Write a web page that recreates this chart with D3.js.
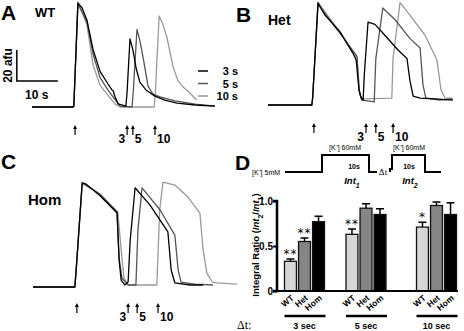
<!DOCTYPE html>
<html>
<head>
<meta charset="utf-8">
<script src="https://cdn.jsdelivr.net/npm/d3@7"></script>
<style>
  body { margin: 0; background: #fff; }
  svg { font-family: "Liberation Sans", Arial, sans-serif; }
  svg text { fill: #000; }
</style>
</head>
<body>
<svg id="fig" width="464" height="331"></svg>
<script>
// Traces: [time (s), signal (afu)]
var traceA3 = [[0,0],[10,0],[10.2,0.5],[11.2,67],[12.2,64],[13.4,56],[14.9,37],[16.6,23],[18.5,15],[19.5,11],[19.8,10.5],[20.2,7],[21.0,2],[22.9,0.5],[23.2,10],[23.9,44],[24.6,37],[25.4,25],[26.3,16],[27.8,11],[30.0,7],[32.4,4.5],[35.4,2.5],[39.8,1.3],[44.6,0.6]];
var traceA5 = [[0,0],[10,0],[10.2,0.5],[11.2,66.5],[13.4,55],[14.9,34],[16.6,19],[18.5,11],[20.2,5],[21.5,0.6],[24.4,0],[24.7,10],[25.6,50],[26.3,43],[27.3,29],[28.3,13.5],[29.5,8.4],[31.2,6.5],[34.9,3.9],[39.8,1.9],[44.6,0.6]];
var traceA10 = [[0,0],[10,0],[10.2,0.5],[11.2,68],[13.4,53],[14.9,27],[16.6,14],[18.5,7.7],[20.2,2],[21.5,0],[29.8,0],[30.1,10],[31.0,58.7],[31.9,53.5],[32.9,45],[34.4,26],[35.6,17],[36.8,13],[38.5,9],[40.2,4.5]];

var traceB3 = [[0,0],[10.7,0],[10.9,5],[12.2,66],[13.9,58],[17.6,47],[20.7,33.5],[21.5,29],[22.2,9.7],[22.7,4.5],[23.2,3.2],[23.5,20],[24.4,53.5],[26.1,52],[28.5,45],[31.7,35.5],[33.9,30],[34.6,16],[35.4,5.8],[37.1,4.5],[40.7,3.9],[45.1,3.2]];
var traceB5 = [[0,0],[10.7,0],[10.9,5],[12.2,65],[17.6,46],[21.7,31.6],[22.2,9.7],[22.9,3.2],[25.9,2],[26.3,30],[28.0,62.6],[31.0,55],[34.6,43],[37.1,36.8],[37.8,13],[38.5,4.5],[41.9,3.2],[45.1,3.9]];
var traceB10 = [[0,0],[10.7,0],[10.9,5],[12.2,66],[17.6,47],[21.7,30.3],[22.4,6.5],[23.2,3.9],[30.2,4.5],[30.5,30],[32.2,66],[34.6,58],[38.3,45],[41.2,29],[42.2,9.7],[43.2,4.5],[44.9,4.5]];

var traceC3 = [[0,0],[10.2,0],[10.5,10],[12.0,67],[12.9,66.5],[16.3,59],[20.5,47.7],[21.0,17.4],[21.5,4.5],[22.4,1.3],[23.2,3.2],[23.7,30],[24.9,64],[28.5,53],[32.9,35.5],[33.7,11],[34.6,2.6],[38.3,1.3],[41.5,1.3]];
var traceC5 = [[0,0],[10.2,0],[10.5,10],[12.0,67],[16.3,60],[20.5,48.4],[21.0,18.7],[21.7,5.8],[23.2,1.3],[25.1,1.3],[25.6,37],[26.6,64],[31.0,49.7],[34.6,33.5],[35.4,11],[36.1,3.2],[39.5,1.9],[43.9,1.3]];
var traceC10 = [[0,0],[10.2,0],[10.5,10],[12.0,67.7],[16.3,60],[20.7,48.4],[21.5,23.9],[22.2,5.8],[23.2,1.3],[30.2,1.3],[30.9,49.7],[31.7,67.7],[34.6,65.8],[37.8,58],[40.7,47.7],[41.5,23.9],[42.4,9],[43.7,3.2],[44.9,2.6],[49.8,1.9]];

// Stimulus times (s) for arrows
var stimA = [10.5, 23.2, 24.6, 30.0];
var stimB = [11.2, 23.9, 26.3, 30.5];
var stimC = [10.7, 23.2, 25.4, 30.5];

// Legend
var delays = ["3 s", "5 s", "10 s"];
var traceColors = ["#000", "#555", "#999"];

// Panel D data
var groups = ["3 sec", "5 sec", "10 sec"];
var genotypes = ["WT", "Het", "Hom"];
var ratioWT = [0.33, 0.63, 0.71];
var ratioHet = [0.55, 0.92, 0.95];
var ratioHom = [0.77, 0.85, 0.85];
var errWT = [0.025, 0.06, 0.055];
var errHet = [0.04, 0.05, 0.04];
var errHom = [0.06, 0.065, 0.13];
var stars = [["**", "**", ""], ["**", "", ""], ["*", "", ""]]; // per group: WT, Het, Hom
var yTicks = [0, 0.5, 1.0];

var svg = d3.select("#fig");

// panel letters
function bigLabel(x, y, t) {
  svg.append("text").attr("x", x).attr("y", y).text(t)
    .style("font-size", "21px").style("font-weight", "bold");
}
bigLabel(1, 20, "A");
bigLabel(236, 22, "B");
bigLabel(1, 169, "C");
bigLabel(235, 170, "D");

function tracePanel(x0, y0, traces, stim, arrowTop, name, nx, ny, nsize) {
  var x = d3.scaleLinear().domain([0, 10]).range([x0, x0 + 41]);
  var y = d3.scaleLinear().domain([0, 20]).range([y0, y0 - 31]);
  var line = d3.line().x(d => x(d[0])).y(d => y(d[1]));
  var g = svg.append("g");
  // draw light first, black on top
  [2, 1, 0].forEach(function(i) {
    g.append("path").datum(traces[i]).attr("d", line)
      .attr("fill", "none").attr("stroke", traceColors[i])
      .attr("stroke-width", 1.3).attr("stroke-linejoin", "round");
  });
  // arrows
  stim.forEach(function(t) {
    var ax = x(t);
    g.append("line").attr("x1", ax).attr("x2", ax)
      .attr("y1", arrowTop + 2).attr("y2", arrowTop + 10)
      .attr("stroke", "#000").attr("stroke-width", 1.2);
    g.append("path")
      .attr("d", "M" + (ax - 2) + "," + (arrowTop + 4) + "L" + ax + "," + arrowTop + "L" + (ax + 2) + "," + (arrowTop + 4) + "Z")
      .attr("fill", "#000");
  });
  var lb = arrowTop + 18;
  g.append("text").attr("x", x(stim[1]) - 2).attr("y", lb).attr("text-anchor", "end")
    .text("3").style("font-size", "12px").style("font-weight", "bold");
  g.append("text").attr("x", x(stim[2]) + 2).attr("y", lb)
    .text("5").style("font-size", "12px").style("font-weight", "bold");
  g.append("text").attr("x", x(stim[3]) + 2).attr("y", lb)
    .text("10").style("font-size", "12px").style("font-weight", "bold");
  // genotype label
  svg.append("text").attr("x", nx).attr("y", ny).text(name)
    .style("font-size", nsize).style("font-weight", "bold");
  return {x: x, y: y};
}

var pA = tracePanel(32, 107, [traceA3, traceA5, traceA10], stimA, 125, "WT", 35, 17, "13px");
tracePanel(268, 105, [traceB3, traceB5, traceB10], stimB, 123, "Het", 268, 25, "14px");
tracePanel(33, 287, [traceC3, traceC5, traceC10], stimC, 303, "Hom", 28, 205, "15px");

// scale bar in A: 10 s x 20 afu
var sb = svg.append("g");
var sx0 = pA.x(-3.7), sy0 = pA.y(16.8);
sb.append("path")
  .attr("d", "M" + sx0 + "," + pA.y(36.8) + "V" + sy0 + "H" + pA.x(6.3))
  .attr("fill", "none").attr("stroke", "#000").attr("stroke-width", 1.5);
sb.append("text").attr("transform", "translate(" + (sx0 - 5) + "," + ((sy0 + pA.y(36.8)) / 2) + ") rotate(-90)")
  .attr("text-anchor", "middle").text("20 afu")
  .style("font-size", "12px").style("font-weight", "bold");
sb.append("text").attr("x", 25).attr("y", 99).text("10 s")
  .style("font-size", "12px").style("font-weight", "bold");

// legend in A
delays.forEach(function(d, i) {
  var ly = 71 + i * 12.5;
  svg.append("line").attr("x1", 198).attr("x2", 208).attr("y1", ly).attr("y2", ly)
    .attr("stroke", traceColors[i]).attr("stroke-width", 1.5);
  svg.append("text").attr("x", 238).attr("y", ly + 4).attr("text-anchor", "end")
    .text(d).style("font-size", "11px").style("font-weight", "bold");
});

// ---- Panel D ----
var yD = d3.scaleLinear().domain([0, 1]).range([291, 201]);
var groupX = d3.scaleOrdinal().domain(groups).range([304.5, 366, 436.5]);
var inner = d3.scaleBand().domain(genotypes).range([-20, 20]).paddingInner(0.15);
var fills = {WT: "#d6d6d6", Het: "#858585", Hom: "#000"};

var rows = [];
groups.forEach(function(gname, gi) {
  [ratioWT, ratioHet, ratioHom].forEach(function(arr, k) {
    var errs = [errWT, errHet, errHom][k];
    rows.push({group: gname, geno: genotypes[k], v: arr[gi], e: errs[gi], star: stars[gi][k]});
  });
});

var D = svg.append("g");
var bx = d => groupX(d.group) + inner(d.geno);

// error bars (upper only)
D.selectAll(".err").data(rows).join("path")
  .attr("d", d => {
    var cx = bx(d) + inner.bandwidth() / 2;
    return "M" + cx + "," + yD(d.v) + "V" + yD(d.v + d.e) + "M" + (cx - 4) + "," + yD(d.v + d.e) + "H" + (cx + 4);
  })
  .attr("stroke", "#000").attr("stroke-width", 1.5).attr("fill", "none");

D.selectAll(".bar").data(rows).join("rect")
  .attr("x", bx).attr("width", inner.bandwidth())
  .attr("y", d => yD(d.v)).attr("height", d => yD(0) - yD(d.v))
  .attr("fill", d => fills[d.geno]).attr("stroke", "#111").attr("stroke-width", 1.3);

D.selectAll(".star").data(rows.filter(d => d.star)).join("text")
  .attr("x", d => bx(d) + inner.bandwidth() / 2).attr("y", d => yD(d.v + d.e) + 3)
  .attr("text-anchor", "middle").text(d => d.star)
  .style("font-family", "'DejaVu Sans', sans-serif")
  .style("font-size", "12px").style("letter-spacing", "1px")
  .attr("transform", "translate(0,-4)");

// axis
var yAxis = D.append("g").attr("transform", "translate(277,0)")
  .call(d3.axisLeft(yD).tickValues(yTicks).tickSize(4).tickFormat(d => d === 0 ? "0" : d3.format(".1f")(d)));
yAxis.select(".domain").attr("stroke-width", 2.5).attr("d", "M-4," + yD(1) + "H0V" + yD(0) + "H-4");
yAxis.selectAll(".tick line").attr("stroke-width", 2);
yAxis.selectAll(".tick text").style("font-size", "10px").style("font-weight", "bold")
  .style("font-family", "'Liberation Sans', Arial, sans-serif").attr("x", -4);

// baseline
D.append("line").attr("x1", 277).attr("x2", 458).attr("y1", yD(0)).attr("y2", yD(0))
  .attr("stroke", "#000").attr("stroke-width", 2);

// y label
var yl = D.append("text").attr("transform", "translate(259,245) rotate(-90)")
  .attr("text-anchor", "middle").style("font-size", "9.5px").style("font-weight", "bold");
yl.append("tspan").text("Integral Ratio (");
yl.append("tspan").text("Int").style("font-style", "italic");
yl.append("tspan").text("2").attr("baseline-shift", "sub").style("font-size", "7px");
yl.append("tspan").text("/");
yl.append("tspan").text("Int").style("font-style", "italic");
yl.append("tspan").text("1").attr("baseline-shift", "sub").style("font-size", "7px");
yl.append("tspan").text(")");

// genotype tick labels rotated
D.selectAll(".gl").data(rows).join("text")
  .attr("transform", d => "translate(" + (bx(d) + inner.bandwidth() / 2 + 4) + ",299) rotate(-40)")
  .attr("text-anchor", "end").text(d => d.geno)
  .style("font-size", "8.5px").style("font-weight", "bold");

// group underline + labels
groups.forEach(function(gname) {
  var cx = groupX(gname);
  D.append("line").attr("x1", cx - 20).attr("x2", cx + 21).attr("y1", 316).attr("y2", 316)
    .attr("stroke", "#000").attr("stroke-width", 2.5);
  D.append("text").attr("x", cx).attr("y", 329).attr("text-anchor", "middle")
    .text(gname).style("font-size", "9px").style("font-weight", "bold");
});
D.append("text").attr("x", 237).attr("y", 329).text("\u0394t:")
  .style("font-family", "'Liberation Serif', serif").style("font-size", "12px");

// protocol schematic
var sc = svg.append("g");
sc.append("path")
  .attr("d", "M285,172H322V155H369V172H377M390,172V169H392V155H425V172H441")
  .attr("fill", "none").attr("stroke", "#000").attr("stroke-width", 2);
sc.append("text").attr("x", 252).attr("y", 175).text("[K\u207A] 5mM").style("font-size", "7px");
sc.append("text").attr("x", 345).attr("y", 150).attr("text-anchor", "middle").text("[K\u207A] 60mM").style("font-size", "7px");
sc.append("text").attr("x", 409).attr("y", 150).attr("text-anchor", "middle").text("[K\u207A] 60mM").style("font-size", "7px");
sc.append("text").attr("x", 354).attr("y", 169).attr("text-anchor", "middle").text("10s").style("font-size", "7px").style("font-weight", "bold");
sc.append("text").attr("x", 409).attr("y", 169).attr("text-anchor", "middle").text("10s").style("font-size", "7px").style("font-weight", "bold");
sc.append("text").attr("x", 383).attr("y", 175).attr("text-anchor", "middle").text("\u0394t")
  .style("font-family", "'Liberation Serif', serif").style("font-size", "9px");
[[352, "1"], [410, "2"]].forEach(function(p) {
  var t = sc.append("text").attr("x", p[0]).attr("y", 184).attr("text-anchor", "middle")
    .style("font-size", "9.5px").style("font-weight", "bold").style("font-style", "italic");
  t.append("tspan").text("Int");
  t.append("tspan").text(p[1]).attr("baseline-shift", "sub").style("font-size", "7px");
});
</script>
</body>
</html>
